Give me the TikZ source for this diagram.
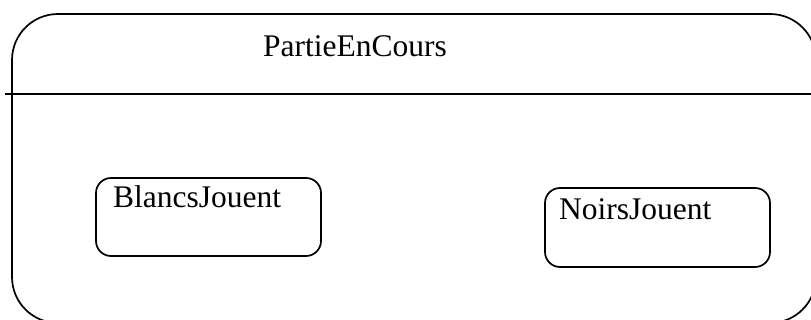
\documentclass[tikz,border=0pt]{standalone}
\usepackage{fontspec}
\setmainfont{Liberation Serif}
\begin{document}
\begin{tikzpicture}[x=1pt,y=-1pt,
  edge/.style={line width=1.7pt},
  statebox/.style={draw,line width=1.7pt,rounded corners=15pt,inner sep=0pt},
  lbl/.style={anchor=base west,inner sep=0pt,font=\fontsize{31.5}{38}\selectfont}]
\useasboundingbox (0,0) rectangle (811,320);
\clip (0,0) rectangle (811,320);
\draw[edge,rounded corners=46pt] (12,14) rectangle (816,323);
\coordinate (hl) at (5,94);
\coordinate (hr) at (815,94);
\draw[edge] (hl) -- (hr);
\node[lbl] (partie) at (263,57) {PartieEnCours};
\node[statebox,minimum width=225pt,minimum height=78pt] (blancs) at (208.5,217) {};
\node[lbl] (blancsT) at (113,208) {BlancsJouent};
\node[statebox,minimum width=225pt,minimum height=79pt] (noirs) at (657.5,227.5) {};
\node[lbl] (noirsT) at (559,220) {NoirsJouent};
\end{tikzpicture}
\end{document}
